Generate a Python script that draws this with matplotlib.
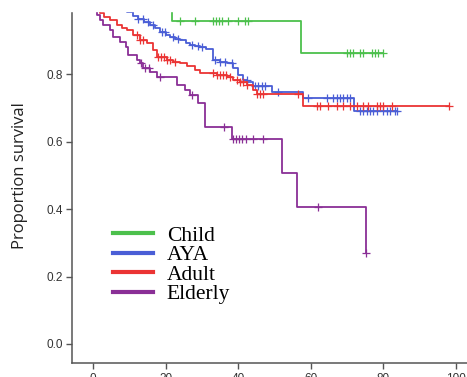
import numpy as np
import matplotlib
matplotlib.use("Agg")
import matplotlib.pyplot as plt
from matplotlib.patches import Rectangle

# Curvas de sobrevida (tempo do evento, sobrevida depois do evento)
child_t = [21.8, 57.2]
child_s = [0.957, 0.862]
child_cens = [24.0, 28.1, 33.1, 33.9, 34.7, 35.5, 37.2, 40.0, 41.9, 42.7,
              70.0, 70.8, 71.6, 73.6, 74.4, 76.9, 77.7, 78.5, 79.9]

aya_t = [4, 7, 9.4, 11, 12.4, 14, 15.7, 17, 18.5, 20, 21.2, 22.5, 24.0, 25.5, 26.7,
         28, 29.5, 31, 33.1, 35, 36.9, 38.6, 39.9, 41.3, 42.5, 44.1, 49.3, 57.9, 72.0]
aya_s = [0.995, 0.99, 0.984, 0.972, 0.962, 0.953, 0.945, 0.935, 0.925, 0.917, 0.910,
         0.905, 0.900, 0.893, 0.886, 0.883, 0.880, 0.875, 0.841, 0.836, 0.833, 0.818,
         0.797, 0.783, 0.776, 0.764, 0.747, 0.729, 0.690]
aya_cens = [12.4, 13.8, 15.2, 16.5, 19.0, 19.8, 22.0, 23.4, 27.3, 28.9, 30.0, 33.6,
            35.0, 36.4, 38.3, 42.4, 44.6, 45.5, 46.6, 47.4, 51.0, 59.2, 64.5, 66.1,
            67.2, 68.0, 68.9, 70.0, 70.8, 73.6, 74.4, 75.5, 76.3, 77.1, 78.2, 79.9,
            81.0, 81.8, 83.2, 83.7]

adult_t = [0.5, 1.9, 3, 4.7, 6.6, 8, 9.4, 11.0, 12.9, 14.9, 16.5, 17.6, 20.4, 22,
           24.0, 26, 28, 29.5, 34.2, 36.9, 38.6, 40.5, 42.4, 44.1, 45.2, 57.9]
adult_s = [0.99, 0.98, 0.97, 0.96, 0.945, 0.937, 0.93, 0.916, 0.901, 0.892, 0.871,
           0.85, 0.841, 0.836, 0.833, 0.823, 0.813, 0.803, 0.797, 0.791, 0.782, 0.775,
           0.767, 0.753, 0.741, 0.705]
adult_cens = [12.1, 12.9, 13.8, 17.9, 18.7, 19.6, 20.4, 21.2, 22.6, 33.1, 34.2, 35.0,
              35.8, 36.6, 37.7, 39.7, 40.5, 41.3, 42.4, 45.2, 46.0, 46.8, 56.5, 61.7,
              62.5, 64.7, 67.2, 68.9, 70.8, 72.7, 74.4, 75.8, 78.2, 79.1, 79.9, 82.4, 98.1]

elderly_t = [0.3, 1.1, 1.9, 2.8, 4.7, 5.5, 7.4, 9.0, 9.6, 12.1, 12.9, 13.8, 15.8, 17.6,
             23.1, 25.3, 26.7, 28.9, 30.9, 38.3, 52.1, 56.2, 75.2]
elderly_s = [0.99, 0.975, 0.96, 0.945, 0.93, 0.91, 0.895, 0.88, 0.856, 0.841, 0.833,
             0.818, 0.806, 0.791, 0.767, 0.753, 0.738, 0.714, 0.643, 0.607, 0.507,
             0.406, 0.270]
elderly_cens = [13.2, 14.3, 15.4, 18.5, 27.3, 36.1, 38.6, 39.4, 40.2, 41.0, 42.1,
                44.1, 46.8, 62.0, 75.2]

grupos = ["Child", "AYA", "Adult", "Elderly"]
cores = ["#4cc04c", "#4a5ed6", "#eb3434", "#8a2f96"]
curvas = [(child_t, child_s, child_cens), (aya_t, aya_s, aya_cens),
          (adult_t, adult_s, adult_cens), (elderly_t, elderly_s, elderly_cens)]

fig = plt.figure(figsize=(4.67, 3.77), dpi=100)
ax = fig.add_axes([72/467, 14/377, 395/467, 363/377])

for nome, cor, (t, s, c) in zip(grupos, cores, curvas):
    tt = np.array([0] + t + [max(c)])
    ss = np.array([1.0] + s + [s[-1]])
    ax.step(tt, ss, where="post", color=cor, lw=1.3, label=nome)
    # marcas de censura
    idx = np.searchsorted(tt, c, side="right") - 1
    ax.plot(c, ss[idx], ls="none", marker="+", ms=6, mew=0.9, color=cor)

ax.set_xlim(-5.8, 103)
ax.set_ylim(-0.0563, 1.0193)
ax.set_xticks([0, 20, 40, 60, 80, 100])
ax.set_yticks([0.0, 0.2, 0.4, 0.6, 0.8, 1.0])
ax.set_yticklabels(["0.0", "0.2", "0.4", "0.6", "0.8", "1.0"])

for lado in ["top", "right"]:
    ax.spines[lado].set_visible(False)
for lado in ["left", "bottom"]:
    ax.spines[lado].set_color("#555555")
    ax.spines[lado].set_linewidth(1.1)
ax.tick_params(direction="out", length=4.5, width=1, color="#555555",
               labelsize=8.5, labelcolor="#333333", pad=2)
ax.tick_params(axis="x", pad=2.5)
for lab in ax.get_xticklabels() + ax.get_yticklabels():
    lab.set_family("Liberation Sans")

ax.set_ylabel("Proportion survival", family="Open Sans", fontsize=12, color="#222222")
ax.yaxis.set_label_coords(-0.111, 0.515)

leg = ax.legend(loc="upper left", bbox_to_anchor=(0.104, 0.378), frameon=False,
                prop={"family": "Liberation Serif", "size": 15.5},
                handlelength=1.85, handletextpad=0.65, labelspacing=-0.03,
                borderpad=0, borderaxespad=0)
for linha in leg.get_lines():
    linha.set_linewidth(3)

# faixa branca no topo (imagem original cortada)
fig.add_artist(Rectangle((0, 1 - 11/377), 1, 11/377, transform=fig.transFigure,
                         color="white", zorder=10))

plt.savefig("out.png", dpi=100)
